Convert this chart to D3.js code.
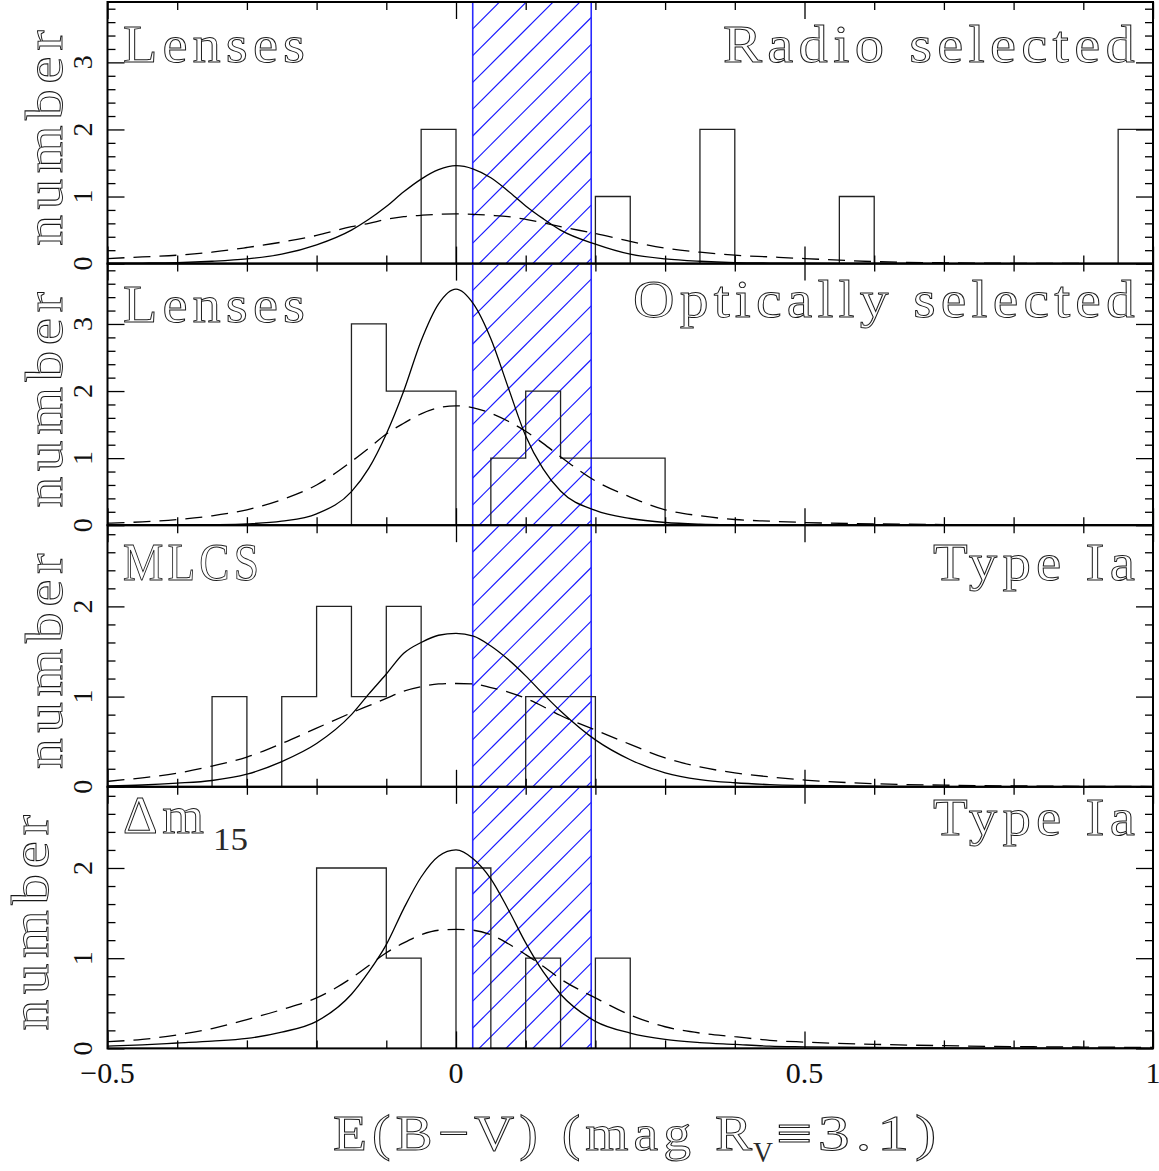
<!DOCTYPE html>
<html><head><meta charset="utf-8">
<script src="https://cdn.jsdelivr.net/npm/d3@7"></script>
<style>
body{margin:0;background:#fff}
svg{display:block}
text{font-family:"Liberation Serif","Times New Roman",serif;fill:#111}
text.big{fill:none;stroke:#1a1a1a;stroke-width:0.95px;letter-spacing:0.09em}
text.sub{fill:#2a2a2a}
</style>
</head><body>
<svg id="chart" width="1159" height="1171"></svg>
<script>
// ---------------- DATA ----------------
const xDomain = [-0.5, 1.0];
const xMajorTicks = [-0.5, 0, 0.5, 1];
const xTickLabels = ["\u22120.5", "0", "0.5", "1"];
const xMinorTicks = [-0.4, -0.3, -0.2, -0.1, 0.1, 0.2, 0.3, 0.4, 0.6, 0.7, 0.8, 0.9];
const binWidth = 0.05;
const bandRange = [0.024, 0.194];
const yMax = [3.9, 3.9, 2.9, 2.9];
const yMajorTicks = [[0, 1, 2, 3], [0, 1, 2, 3], [0, 1, 2], [0, 1, 2]];
const leftLabels = ["Lenses", "Lenses", "MLCS", "\u0394m"];
const leftSubLabels = ["", "", "", "15"];
const rightLabels = ["Radio selected", "Optically selected", "Type Ia", "Type Ia"];
const yAxisLabel = "number";

// histogram bins: [left edge, count]
const radioBins   = [[-0.05, 2], [0.2, 1], [0.35, 2], [0.55, 1], [0.95, 2]];
const opticalBins = [[-0.15, 3], [-0.1, 2], [-0.05, 2], [0.05, 1], [0.1, 2], [0.15, 1], [0.2, 1], [0.25, 1]];
const mlcsBins    = [[-0.35, 1], [-0.25, 1], [-0.2, 2], [-0.15, 1], [-0.1, 2], [0.1, 1], [0.15, 1]];
const dm15Bins    = [[-0.2, 2], [-0.15, 2], [-0.1, 1], [0, 2], [0.1, 1], [0.2, 1]];

// model curves sampled at curveX
const curveX = [-0.5,-0.45,-0.4,-0.35,-0.3,-0.25,-0.2,-0.15,-0.125,-0.1,-0.075,-0.05,-0.025,0,0.025,0.05,0.075,0.1,0.125,0.15,0.2,0.25,0.3,0.35,0.4,0.45,0.5,0.6,0.7,0.8,0.9,1.0];
const radioSolid    = [0.005,0.008,0.015,0.035,0.07,0.14,0.28,0.5,0.66,0.85,1.07,1.26,1.4,1.46,1.41,1.28,1.08,0.86,0.67,0.5,0.29,0.14,0.07,0.035,0.015,0.008,0.005,0.002,0.001,0,0,0];
const radioDashed   = [0.075,0.1,0.125,0.17,0.24,0.32,0.42,0.55,0.6,0.66,0.7,0.72,0.735,0.74,0.735,0.72,0.7,0.66,0.61,0.55,0.45,0.33,0.23,0.17,0.125,0.1,0.075,0.03,0.012,0.004,0.001,0];
const opticalSolid  = [0,0,0.003,0.008,0.02,0.06,0.17,0.5,0.85,1.36,2.0,2.75,3.3,3.52,3.3,2.78,2.05,1.33,0.84,0.51,0.22,0.1,0.04,0.015,0.006,0.003,0.001,0,0,0,0,0];
const opticalDashed = [0.03,0.05,0.085,0.14,0.23,0.38,0.6,0.95,1.15,1.36,1.52,1.66,1.75,1.78,1.75,1.67,1.55,1.4,1.22,1.02,0.66,0.42,0.23,0.14,0.085,0.06,0.04,0.02,0.01,0.005,0.002,0];
const mlcsSolid     = [0.01,0.02,0.04,0.07,0.14,0.28,0.48,0.8,1.03,1.25,1.48,1.6,1.68,1.7,1.67,1.56,1.41,1.23,1.03,0.84,0.52,0.3,0.155,0.08,0.045,0.025,0.015,0.006,0.003,0.001,0,0];
const mlcsDashed    = [0.06,0.1,0.15,0.23,0.33,0.48,0.65,0.82,0.9,0.98,1.06,1.11,1.14,1.145,1.14,1.1,1.05,0.98,0.89,0.79,0.63,0.47,0.32,0.22,0.155,0.11,0.075,0.035,0.018,0.01,0.005,0.003];
const dm15Solid     = [0.025,0.04,0.06,0.08,0.11,0.18,0.3,0.6,0.85,1.15,1.55,1.9,2.13,2.2,2.1,1.88,1.54,1.17,0.85,0.6,0.3,0.17,0.1,0.065,0.045,0.025,0.018,0.01,0.005,0.003,0.002,0.001];
const dm15Dashed    = [0.075,0.1,0.15,0.22,0.32,0.43,0.56,0.78,0.92,1.06,1.17,1.26,1.31,1.32,1.31,1.26,1.16,1.04,0.91,0.77,0.56,0.37,0.24,0.17,0.13,0.09,0.07,0.045,0.03,0.02,0.015,0.01];

const panelBins = [radioBins, opticalBins, mlcsBins, dm15Bins];
const panelSolid = [radioSolid, opticalSolid, mlcsSolid, dm15Solid];
const panelDashed = [radioDashed, opticalDashed, mlcsDashed, dm15Dashed];

// ---------------- LAYOUT ----------------
const X0 = 107.5, X1 = 1153;
const TOP = 2, PH = 261.6;
const leftLabelY = [62, 322, 580, 833];
const rightLabelY = [62, 317, 580, 835];
const leftLabelLen = [182, 182, 135, 81];
const rightLabelLen = [412, 502, 202, 202];
const yLabelBaseX = [62, 62, 62, 48];
const trail = 5; // trailing letter-spacing compensation

const svg = d3.select("#chart");
const x = d3.scaleLinear().domain(xDomain).range([X0, X1]);
const defs = svg.append("defs");

for (let p = 0; p < 4; p++) {
  const top = TOP + p * PH, bot = top + PH;
  const y = d3.scaleLinear().domain([0, yMax[p]]).range([bot, top]);
  const g = svg.append("g");

  const clipId = "clip" + p;
  defs.append("clipPath").attr("id", clipId).append("rect")
    .attr("x", X0).attr("y", top).attr("width", X1 - X0).attr("height", PH);

  // hatched band
  const bx0 = x(bandRange[0]), bx1 = x(bandRange[1]);
  const bandClip = "bclip" + p;
  defs.append("clipPath").attr("id", bandClip).append("rect")
    .attr("x", bx0).attr("y", top).attr("width", bx1 - bx0).attr("height", PH);
  const hg = g.append("g").attr("clip-path", `url(#${bandClip})`);
  const sp = 26.8, w = bx1 - bx0;
  for (let k = 0; top + k * sp < bot + w + sp; k++) {
    const yl = top + k * sp;
    hg.append("line").attr("x1", bx0).attr("y1", yl).attr("x2", bx1).attr("y2", yl - w)
      .attr("stroke", "#1818ff").attr("stroke-width", 1.15);
  }
  [bx0, bx1].forEach(bx => g.append("line").attr("x1", bx).attr("x2", bx)
    .attr("y1", top).attr("y2", bot).attr("stroke", "#2a2aff").attr("stroke-width", 1.6));

  // histogram (step outline)
  const nb = Math.round((xDomain[1] - xDomain[0]) / binWidth);
  const counts = new Array(nb).fill(0);
  panelBins[p].forEach(([l, c]) => { counts[Math.round((l - xDomain[0]) / binWidth)] = c; });
  const pts = counts.map((c, i) => [xDomain[0] + i * binWidth, c]);
  pts.push([xDomain[1], 0]);
  g.append("path").attr("clip-path", `url(#${clipId})`)
    .attr("d", d3.line().x(d => x(d[0])).y(d => y(d[1])).curve(d3.curveStepAfter)(pts))
    .attr("fill", "none").attr("stroke", "#222").attr("stroke-width", 1.3);

  // curves
  const cl = d3.line().x((d, i) => x(curveX[i])).y(d => y(d)).curve(d3.curveMonotoneX);
  g.append("path").attr("clip-path", `url(#${clipId})`).attr("d", cl(panelSolid[p]))
    .attr("fill", "none").attr("stroke", "#000").attr("stroke-width", 1.3);
  g.append("path").attr("clip-path", `url(#${clipId})`).attr("d", cl(panelDashed[p]))
    .attr("fill", "none").attr("stroke", "#000").attr("stroke-width", 1.3)
    .attr("stroke-dasharray", "17,9");

  // frame
  g.append("rect").attr("x", X0).attr("y", top).attr("width", X1 - X0).attr("height", PH)
    .attr("fill", "none").attr("stroke", "#000").attr("stroke-width", 2);

  // ticks
  const minorY = d3.range(0.2, yMax[p], 0.2).filter(v => Math.abs(v - Math.round(v)) > 0.01);
  const axes = [
    [d3.axisBottom(x).tickValues(xMajorTicks).tickSize(17), `translate(0,${top})`],
    [d3.axisBottom(x).tickValues(xMinorTicks).tickSize(8), `translate(0,${top})`],
    [d3.axisTop(x).tickValues(xMajorTicks).tickSize(17), `translate(0,${bot})`],
    [d3.axisTop(x).tickValues(xMinorTicks).tickSize(8), `translate(0,${bot})`],
    [d3.axisRight(y).tickValues(yMajorTicks[p]).tickSize(17), `translate(${X0},0)`],
    [d3.axisRight(y).tickValues(minorY).tickSize(8), `translate(${X0},0)`],
    [d3.axisLeft(y).tickValues(yMajorTicks[p]).tickSize(17), `translate(${X1},0)`],
    [d3.axisLeft(y).tickValues(minorY).tickSize(8), `translate(${X1},0)`]
  ];
  axes.forEach(([ax, tr]) => {
    const ag = g.append("g").attr("transform", tr).call(ax.tickFormat(""));
    ag.select(".domain").remove();
    ag.selectAll("text").remove();
    ag.selectAll("line").attr("stroke", "#000").attr("stroke-width", 1.3);
  });

  // y tick labels (rotated)
  yMajorTicks[p].forEach(v => {
    g.append("text").attr("transform", `translate(92,${y(v)}) rotate(-90)`)
      .attr("text-anchor", "middle").attr("font-size", 28).text(String(v));
  });

  // y axis label
  g.append("text").attr("class", "big")
    .attr("transform", `translate(${yLabelBaseX[p]},${(top + bot) / 2 + trail / 2}) rotate(-90)`)
    .attr("text-anchor", "middle").attr("font-size", 52)
    .attr("textLength", 216 + trail).attr("lengthAdjust", "spacingAndGlyphs").text(yAxisLabel);

  // panel labels
  g.append("text").attr("class", "big").attr("x", 123).attr("y", leftLabelY[p]).attr("font-size", 53)
    .attr("textLength", leftLabelLen[p] + trail).attr("lengthAdjust", "spacingAndGlyphs").text(leftLabels[p]);
  if (leftSubLabels[p]) {
    g.append("text").attr("class", "sub").attr("x", 213).attr("y", leftLabelY[p] + 17).attr("font-size", 32)
      .attr("textLength", 35).attr("lengthAdjust", "spacingAndGlyphs").text(leftSubLabels[p]);
  }
  g.append("text").attr("class", "big").attr("x", 1135 - rightLabelLen[p]).attr("y", rightLabelY[p]).attr("font-size", 53)
    .attr("textLength", rightLabelLen[p] + trail).attr("lengthAdjust", "spacingAndGlyphs").text(rightLabels[p]);
}

// x tick labels
xMajorTicks.forEach((v, i) => {
  svg.append("text").attr("x", x(v)).attr("y", 1083).attr("text-anchor", "middle")
    .attr("font-size", 30).text(xTickLabels[i]);
});

// x axis title
svg.append("text").attr("class", "big").attr("x", 333).attr("y", 1150).attr("font-size", 50)
  .attr("textLength", 419 + trail).attr("lengthAdjust", "spacingAndGlyphs").text("E(B\u2212V) (mag R");
svg.append("text").attr("class", "sub").attr("x", 753).attr("y", 1162).attr("font-size", 29)
  .attr("textLength", 20).attr("lengthAdjust", "spacingAndGlyphs").text("V");
svg.append("text").attr("class", "big").attr("x", 776).attr("y", 1150).attr("font-size", 50)
  .attr("textLength", 161 + trail).attr("lengthAdjust", "spacingAndGlyphs").text("\u22613.1)");
</script>
</body></html>
